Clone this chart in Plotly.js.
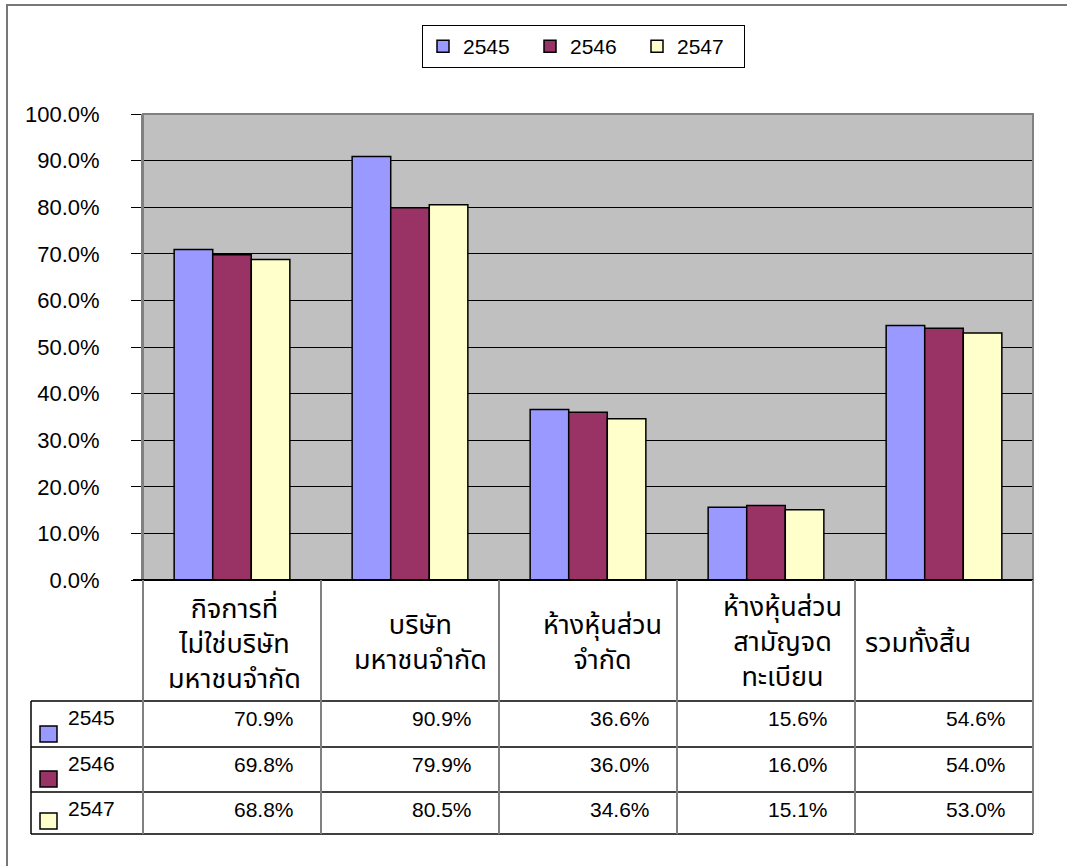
<!DOCTYPE html>
<html>
<head>
<meta charset="utf-8">
<script src="https://cdn.plot.ly/plotly-3.0.1.min.js"></script>
<style>html,body{margin:0;padding:0;background:#fff;}#chart{width:1067px;height:866px;}</style>
</head>
<body>
<div id="chart"></div>
<script>
// ---- data ----
var categories = [
  "กิจการที่<br>ไม่ใช่บริษัท<br>มหาชนจำกัด",
  "บริษัท<br>มหาชนจำกัด",
  "ห้างหุ้นส่วน<br>จำกัด",
  "ห้างหุ้นส่วน<br>สามัญจด<br>ทะเบียน",
  "รวมทั้งสิ้น"
];
var seriesNames = ["2545", "2546", "2547"];
var v2545 = [0.709, 0.909, 0.366, 0.156, 0.546];
var v2546 = [0.698, 0.799, 0.360, 0.160, 0.540];
var v2547 = [0.688, 0.805, 0.346, 0.151, 0.530];
var colors = ["#9999ff", "#993366", "#ffffcc"];

var allValues = [v2545, v2546, v2547];
var FONT = "Liberation Sans, Arial, 'Noto Sans Thai', Loma, Garuda, Tahoma, 'Noto Sans', sans-serif";

// pixel layout helpers
var W = 1067, H = 866, L = 143, R = 1033, T = 114, B = 580;
function px(x) { return (x - L) / (R - L); }
function py(y) { return (B - y) / (B - T); }
var headerShift = [2, 10, 14, 16, -26];

var xIdx = categories.map(function (c, i) { return i; });

var traces = seriesNames.map(function (name, s) {
  return {
    type: "bar",
    name: name,
    x: xIdx,
    y: allValues[s],
    marker: { color: colors[s], line: { color: "#000", width: 1.5 } },
    hoverinfo: "none"
  };
});

var shapes = [];
var annotations = [];

// outer frame
shapes.push({ type: "rect", xref: "paper", yref: "paper", x0: px(7), x1: px(1080), y0: py(5), y1: py(880),
  line: { color: "#777", width: 2 }, fillcolor: "rgba(0,0,0,0)" });
// plot border (grey)
shapes.push({ type: "rect", xref: "paper", yref: "paper", x0: 0, x1: 1, y0: 0, y1: 1,
  line: { color: "#808080", width: 2 }, fillcolor: "rgba(0,0,0,0)", layer: "above" });
// zero line
shapes.push({ type: "line", xref: "paper", yref: "paper", x0: px(133), x1: 1, y0: 0, y1: 0,
  line: { color: "#000", width: 2 }, layer: "above" });

// table lines
var rowLines = [701, 747, 792, 834];
rowLines.forEach(function (y) {
  shapes.push({ type: "line", xref: "paper", yref: "paper", x0: px(31), x1: px(R), y0: py(y), y1: py(y),
    line: { color: "#000", width: 1.5 } });
});
var n = categories.length;
for (var i = 0; i <= n; i++) {
  var xp = i / n;
  shapes.push({ type: "line", xref: "paper", yref: "paper", x0: xp, x1: xp, y0: py(580), y1: py(834),
    line: { color: "#808080", width: 2 } });
}
shapes.push({ type: "line", xref: "paper", yref: "paper", x0: px(31), x1: px(31), y0: py(701), y1: py(834),
  line: { color: "#000", width: 1.5 } });

// header labels
categories.forEach(function (c, i) {
  annotations.push({ xref: "paper", yref: "paper", x: (i + 0.5) / n, y: py(642), text: c,
    xshift: headerShift[i],
    showarrow: false, xanchor: "center", yanchor: "middle", align: "center",
    font: { family: FONT, size: 27, color: "#000" } });
});

// data rows
var rowTop = [701, 747, 792];
var rowBot = [747, 792, 834];
seriesNames.forEach(function (name, s) {
  annotations.push({ xref: "paper", yref: "paper", x: px(117), y: py(rowTop[s] + 16), text: name,
    showarrow: false, xanchor: "right", yanchor: "middle",
    font: { family: FONT, size: 21, color: "#000" } });
  var cy = rowBot[s] - 13;
  shapes.push({ type: "rect", xref: "paper", yref: "paper", x0: px(40), x1: px(57), y0: py(cy - 8), y1: py(cy + 8),
    fillcolor: colors[s], line: { color: "#000", width: 1.5 } });
  allValues[s].forEach(function (v, i) {
    annotations.push({ xref: "paper", yref: "paper", x: (i + 0.5) / n + 32 / (R - L), y: py(rowTop[s] + 17),
      text: (v * 100).toFixed(1) + "%", showarrow: false, xanchor: "center", yanchor: "middle",
      font: { family: FONT, size: 21, color: "#000" } });
  });
});

var layout = {
  width: W, height: H, autosize: false,
  margin: { l: L, r: W - R, t: T, b: H - B, pad: 0 },
  paper_bgcolor: "#fff",
  plot_bgcolor: "#c0c0c0",
  barmode: "group",
  bargap: 0.35,
  bargroupgap: 0,
  font: { family: FONT, size: 21, color: "#000" },
  showlegend: true,
  legend: {
    orientation: "h", x: px(422), y: py(25), xanchor: "left", yanchor: "top",
    bordercolor: "#000", borderwidth: 1, bgcolor: "#fff",
    font: { family: FONT, size: 21, color: "#000" },
    entrywidth: 62, entrywidthmode: "pixels", itemwidth: 30, tracegroupgap: 0
  },
  xaxis: {
    range: [-0.5, n - 0.5], showticklabels: false, ticks: "", showgrid: false,
    zeroline: false, showline: false, fixedrange: true
  },
  yaxis: {
    range: [0, 1], dtick: 0.1, tick0: 0, tickformat: ".1%",
    ticks: "outside", ticklen: 10, tickcolor: "#000", tickwidth: 1,
    ticklabelstandoff: 27,
    showgrid: true, gridcolor: "#000", gridwidth: 1,
    zeroline: false, showline: true, linecolor: "#808080", linewidth: 2,
    tickfont: { family: FONT, size: 22, color: "#000" }, fixedrange: true
  },
  shapes: shapes,
  annotations: annotations
};

Plotly.newPlot("chart", traces, layout, { displayModeBar: false, staticPlot: true });
</script>
</body>
</html>
